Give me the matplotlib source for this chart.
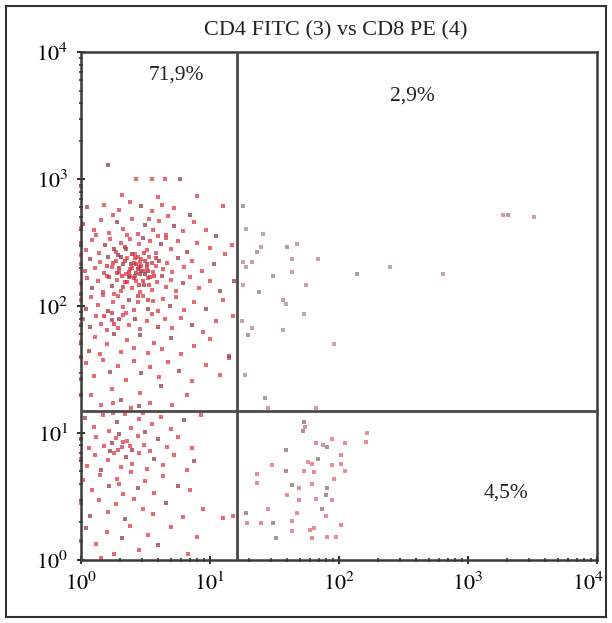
import matplotlib
matplotlib.use("Agg")
import matplotlib.pyplot as plt
import matplotlib.transforms as mtransforms
import numpy as np
from matplotlib.patches import Rectangle

plt.rcParams['font.family'] = ['Liberation Serif', 'DejaVu Serif']
plt.rcParams['mathtext.fontset'] = 'stix'

title = "CD4 FITC (3) vs CD8 PE (4)"
quad_labels = ["71,9%", "2,9%", "4,5%"]
# label anchor points (CD4, CD8)
quad_pos = [(5.5, 6600), (370, 4500), (2000, 3.4)]
gate_x = 16.2
gate_y = 14.9

# events, as (log10 CD4, log10 CD8)
ul_log = [
    (0.21, 3.11), (0.43, 3.0), (0.55, 3.0), (0.65, 3.0), (0.77, 3.0), (0.32, 2.88), (0.60, 2.86), (0.90, 2.87),
    (0.05, 2.78), (0.18, 2.80), (0.30, 2.76), (0.38, 2.82), (0.47, 2.79), (0.55, 2.75), (0.63, 2.80), (0.72, 2.77),
    (0.85, 2.72), (1.10, 2.79), (0.25, 2.72), (0.68, 2.71),
    (0.02, 2.65), (0.10, 2.60), (0.16, 2.68), (0.22, 2.58), (0.28, 2.66), (0.33, 2.61), (0.40, 2.69), (0.44, 2.57),
    (0.50, 2.64), (0.56, 2.60), (0.61, 2.67), (0.66, 2.56), (0.72, 2.63), (0.79, 2.59), (0.88, 2.66), (0.97, 2.60),
    (1.05, 2.55), (0.36, 2.56), (0.12, 2.56), (0.53, 2.69),
    (0.00, 2.50), (0.04, 2.44), (0.09, 2.52), (0.14, 2.42), (0.19, 2.48), (0.23, 2.53), (0.27, 2.43), (0.31, 2.50),
    (0.35, 2.45), (0.38, 2.53), (0.42, 2.41), (0.45, 2.49), (0.48, 2.54), (0.51, 2.44), (0.54, 2.51), (0.58, 2.42),
    (0.62, 2.49), (0.66, 2.54), (0.70, 2.45), (0.75, 2.51), (0.82, 2.43), (0.90, 2.50), (1.00, 2.46), (1.12, 2.41),
    (0.29, 2.40), (0.60, 2.55),
    (0.00, 2.33), (0.03, 2.28), (0.07, 2.37), (0.11, 2.30), (0.15, 2.35), (0.18, 2.26), (0.21, 2.39), (0.24, 2.31),
    (0.27, 2.36), (0.30, 2.27), (0.33, 2.33), (0.36, 2.38), (0.38, 2.29), (0.41, 2.34), (0.43, 2.26), (0.45, 2.31),
    (0.47, 2.37), (0.49, 2.28), (0.51, 2.33), (0.53, 2.39), (0.56, 2.27), (0.58, 2.32), (0.61, 2.36), (0.64, 2.29),
    (0.67, 2.34), (0.71, 2.27), (0.75, 2.38), (0.80, 2.31), (0.86, 2.36), (0.94, 2.28), (1.03, 2.33), (0.40, 2.30),
    (0.46, 2.35), (0.35, 2.25), (0.50, 2.25), (0.44, 2.39),
    (0.00, 2.18), (0.05, 2.22), (0.09, 2.14), (0.13, 2.20), (0.17, 2.11), (0.20, 2.24), (0.24, 2.16), (0.28, 2.21),
    (0.31, 2.12), (0.34, 2.19), (0.37, 2.23), (0.40, 2.14), (0.43, 2.20), (0.46, 2.11), (0.49, 2.17), (0.52, 2.22),
    (0.55, 2.13), (0.59, 2.19), (0.63, 2.24), (0.66, 2.15), (0.70, 2.21), (0.74, 2.12), (0.79, 2.18), (0.85, 2.23),
    (0.92, 2.14), (1.00, 2.20), (1.08, 2.12), (0.42, 2.24), (0.26, 2.10),
    (0.00, 2.05), (0.04, 1.98), (0.08, 2.07), (0.13, 2.01), (0.17, 2.09), (0.21, 1.96), (0.25, 2.03), (0.29, 2.08),
    (0.33, 1.99), (0.37, 2.05), (0.41, 1.97), (0.44, 2.03), (0.48, 2.08), (0.52, 1.98), (0.56, 2.04), (0.60, 1.96),
    (0.64, 2.06), (0.69, 2.00), (0.74, 2.07), (0.80, 1.97), (0.88, 2.03), (0.97, 1.98), (1.10, 2.05), (0.35, 1.95),
    (0.02, 1.90), (0.07, 1.84), (0.12, 1.92), (0.16, 1.86), (0.20, 1.81), (0.24, 1.89), (0.29, 1.83), (0.33, 1.93),
    (0.37, 1.85), (0.42, 1.90), (0.46, 1.82), (0.51, 1.88), (0.55, 1.94), (0.60, 1.84), (0.65, 1.90), (0.71, 1.83),
    (0.78, 1.91), (0.86, 1.85), (0.95, 1.80), (1.05, 1.88),
    (0.00, 1.72), (0.06, 1.65), (0.11, 1.76), (0.15, 1.62), (0.20, 1.70), (0.26, 1.78), (0.31, 1.64), (0.36, 1.73),
    (0.41, 1.67), (0.46, 1.77), (0.52, 1.63), (0.57, 1.71), (0.63, 1.66), (0.70, 1.75), (0.78, 1.62), (0.88, 1.69),
    (1.00, 1.74), (1.15, 1.61),
    (0.04, 1.55), (0.10, 1.45), (0.17, 1.58), (0.23, 1.48), (0.29, 1.53), (0.35, 1.42), (0.41, 1.57), (0.47, 1.47),
    (0.54, 1.52), (0.61, 1.44), (0.68, 1.56), (0.76, 1.49), (0.86, 1.41), (0.97, 1.54), (1.08, 1.46), (0.00, 1.43),
    (0.08, 1.30), (0.16, 1.22), (0.24, 1.35), (0.31, 1.26), (0.39, 1.20), (0.46, 1.32), (0.54, 1.24), (0.62, 1.37),
    (0.71, 1.22), (0.82, 1.30), (0.25, 1.24), (0.45, 1.21),
    (1.17, 2.48), (1.18, 1.92), (1.15, 1.59), (1.19, 2.20),
    (0.00, 2.95), (0.00, 2.62), (0.00, 2.40), (0.00, 2.10), (0.00, 1.85), (0.00, 1.60), (0.00, 1.30),
]

# dense core of the CD4+ population
core_log = [
    (0.30, 2.30), (0.32, 2.24), (0.34, 2.36), (0.37, 2.27), (0.39, 2.33), (0.41, 2.22), (0.42, 2.38), (0.44, 2.29),
    (0.46, 2.25), (0.47, 2.32), (0.48, 2.20), (0.50, 2.36), (0.52, 2.28), (0.54, 2.23), (0.55, 2.34), (0.36, 2.19),
    (0.40, 2.41), (0.45, 2.17), (0.49, 2.42), (0.53, 2.17), (0.31, 2.39), (0.57, 2.24), (0.43, 2.33), (0.38, 2.24),
    (0.47, 2.28), (0.51, 2.31), (0.28, 2.26), (0.25, 2.34), (0.58, 2.38), (0.33, 2.15), (0.22, 2.23), (0.20, 2.32),
    (0.26, 2.45), (0.34, 2.47), (0.18, 1.92), (0.24, 1.95), (0.30, 1.90), (0.26, 1.86), (0.44, 2.08), (0.52, 2.05),
]

ll_log = [
    (0.03, 1.12), (0.10, 1.05), (0.17, 1.14), (0.22, 1.02), (0.28, 1.09), (0.34, 1.15), (0.39, 1.04), (0.45, 1.11),
    (0.50, 1.01), (0.55, 1.07), (0.62, 1.13), (0.70, 1.03), (0.80, 1.10), (0.93, 1.14), (0.25, 1.16), (0.48, 1.16),
    (0.00, 0.95), (0.06, 0.88), (0.12, 0.97), (0.18, 0.90), (0.23, 0.86), (0.27, 0.96), (0.32, 0.89), (0.36, 0.94),
    (0.40, 0.87), (0.44, 0.98), (0.49, 0.91), (0.54, 0.86), (0.60, 0.95), (0.67, 0.89), (0.75, 0.97), (0.86, 0.88),
    (0.30, 0.99), (0.33, 0.93), (0.29, 0.87), (0.38, 0.90), (0.24, 0.92),
    (0.00, 0.80), (0.05, 0.74), (0.11, 0.83), (0.16, 0.71), (0.21, 0.79), (0.26, 0.84), (0.31, 0.73), (0.35, 0.81),
    (0.40, 0.76), (0.45, 0.84), (0.51, 0.72), (0.57, 0.80), (0.64, 0.75), (0.72, 0.83), (0.82, 0.71), (0.88, 0.78),
    (0.02, 0.63), (0.09, 0.55), (0.15, 0.67), (0.22, 0.58), (0.28, 0.64), (0.33, 0.52), (0.39, 0.69), (0.44, 0.57),
    (0.50, 0.62), (0.57, 0.53), (0.64, 0.66), (0.75, 0.58), (0.85, 0.55), (0.30, 0.60),
    (0.00, 0.45), (0.07, 0.35), (0.14, 0.47), (0.21, 0.38), (0.27, 0.44), (0.34, 0.32), (0.41, 0.48), (0.48, 0.40),
    (0.56, 0.36), (0.66, 0.45), (0.79, 0.34), (0.95, 0.40), (1.10, 0.33),
    (0.04, 0.25), (0.12, 0.13), (0.20, 0.22), (0.26, 0.05), (0.32, 0.17), (0.38, 0.27), (0.45, 0.08), (0.52, 0.20),
    (0.60, 0.12), (0.70, 0.26), (0.83, 0.05), (0.16, 0.02), (0.00, 0.15), (0.90, 0.18), (1.18, 0.35),
]

lr_log = [
    (1.72, 1.02), (1.74, 1.05), (1.82, 0.92), (1.88, 0.91), (1.91, 0.89), (1.95, 0.95), (2.05, 0.92), (2.21, 0.93),
    (1.59, 0.87), (1.48, 0.75), (1.76, 0.77), (1.79, 0.76), (1.84, 0.80), (1.95, 0.75), (2.02, 0.76), (2.05, 0.70),
    (1.59, 0.70), (1.73, 0.70), (1.81, 0.69), (1.37, 0.61), (1.64, 0.59), (1.69, 0.57), (1.79, 0.60), (1.96, 0.64),
    (1.91, 0.57), (1.60, 0.51), (1.69, 0.47), (1.82, 0.48), (1.90, 0.51), (1.95, 0.47), (1.45, 0.40), (1.68, 0.37),
    (1.87, 0.40), (1.90, 0.35), (1.29, 0.29), (1.40, 0.29), (1.49, 0.29), (2.02, 0.28), (1.64, 0.23), (1.81, 0.25),
    (1.51, 0.17), (1.79, 0.17), (1.91, 0.18), (1.98, 0.18), (1.73, 1.09), (2.22, 1.00), (2.02, 0.83), (1.37, 0.68),
    (1.28, 0.37), (1.64, 0.31), (1.78, 0.24),
]

ur_log = [
    (1.26, 2.79), (1.28, 2.61), (1.41, 2.57), (1.40, 2.47), (1.37, 2.43), (1.33, 2.35), (1.26, 2.35), (1.28, 2.31),
    (1.60, 2.47), (1.68, 2.49), (1.64, 2.37), (1.84, 2.37), (1.49, 2.24), (1.64, 2.27), (1.75, 2.17), (1.26, 2.17),
    (1.38, 2.11), (1.57, 2.05), (1.59, 2.02), (1.73, 1.94), (2.14, 2.25), (2.40, 2.31), (2.81, 2.25), (3.27, 2.72),
    (3.31, 2.72), (3.51, 2.70), (1.25, 1.88), (1.33, 1.83), (1.30, 1.77), (1.57, 1.81), (1.96, 1.70), (1.27, 1.46),
    (1.43, 1.28), (1.45, 1.20), (1.82, 1.20),
]

fig = plt.figure(figsize=(6.12, 6.23), dpi=100)
ax = fig.add_axes([0.132, 0.101, 0.843, 0.815])


def draw(points, red, grey, size=5.5):
    p = 10 ** np.array(points)
    idx = np.arange(len(p))
    dark = idx % 4 == 0
    ax.scatter(p[~dark, 0], p[~dark, 1], s=size, marker='s', color=red, alpha=0.72,
               linewidths=0, zorder=2, clip_on=False)
    ax.scatter(p[dark, 0], p[dark, 1], s=size, marker='s', color=grey, alpha=0.75,
               linewidths=0, zorder=2, clip_on=False)


draw(ul_log, '#e0303f', '#9a3a48')
draw(core_log, '#d8202f', '#b02a3a')
draw(ll_log, '#e0303f', '#9a3a48')
draw(lr_log, '#e06070', '#8a7075')
draw(ur_log, '#b08088', '#8a8285')

ax.set_xscale('log')
ax.set_yscale('log')
ax.set_xlim(1, 1e4)
ax.set_ylim(1, 1e4)

ax.axvline(gate_x, color='#4a4a4a', lw=2, zorder=3)
ax.axhline(gate_y, color='#4a4a4a', lw=2, zorder=3)

for s in ax.spines.values():
    s.set_color('#3a3a3a')
    s.set_linewidth(1.8)

ticks = [1, 10, 100, 1000, 10000]
ax.set_xticks(ticks)
ax.set_yticks(ticks)
ax.set_xticklabels([r'$10^{%d}$' % i for i in range(5)])
ax.set_yticklabels([r'$10^{%d}$' % i for i in range(5)])
ax.tick_params(which='major', direction='inout', length=6, width=1.5, color='#333333',
               labelsize=16, pad=6)
ax.tick_params(which='minor', direction='inout', length=3, width=1.2, color='#333333')

# keep the last x label inside the frame
last = ax.get_xticklabels()[-1]
last.set_transform(last.get_transform() + mtransforms.ScaledTranslation(-0.09, 0, fig.dpi_scale_trans))

for lab, (x, y) in zip(quad_labels, quad_pos):
    ax.text(x, y, lab, ha='center', va='center', fontsize=15.5, color='#222222')

fig.text(0.548, 0.951, title, ha='center', va='center', fontsize=16, color='#222222')

fig.patches.append(Rectangle((0.0098, 0.0096), 0.9804, 0.9808, transform=fig.transFigure,
                             fill=False, edgecolor='#333333', linewidth=1.5))

fig.savefig('out.png', dpi=100)
